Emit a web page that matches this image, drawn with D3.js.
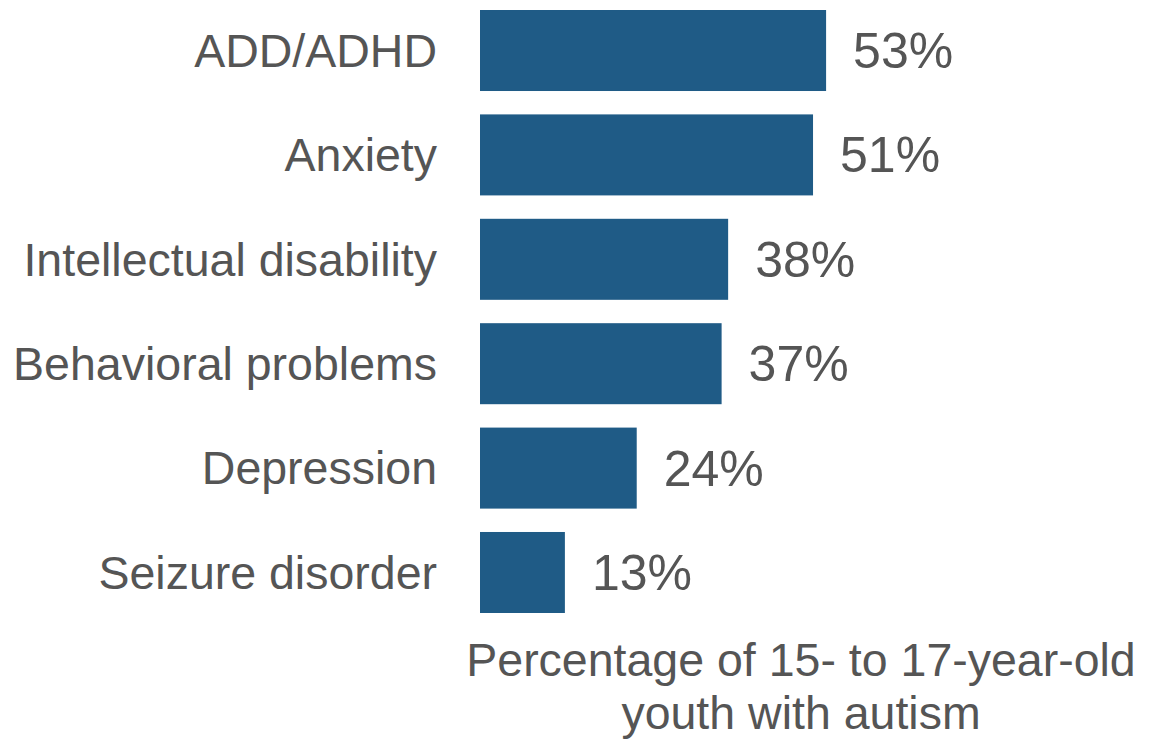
<!DOCTYPE html>
<html>
<head>
<meta charset="utf-8">
<script src="https://cdn.jsdelivr.net/npm/d3@7"></script>
<style>
  body { margin: 0; background: #fff; }
  text { font-family: "Liberation Sans", Arial, sans-serif; fill: #555; }
</style>
</head>
<body>
<div id="chart"></div>
<script>
var conditions = ["ADD/ADHD", "Anxiety", "Intellectual disability", "Behavioral problems", "Depression", "Seizure disorder"];
var percents = [53, 51, 38, 37, 24, 13];
var titleLines = ["Percentage of 15- to 17-year-old", "youth with autism"];

var width = 1153, height = 739;

var svg = d3.select("#chart").append("svg")
    .attr("width", width)
    .attr("height", height);

var x = d3.scaleLinear().domain([0, 100]).range([480, 1133]);
var y = d3.scaleBand().domain(conditions).range([10, 613]).paddingInner(0.224);

var data = conditions.map(function(c, i) { return { name: c, value: percents[i] }; });

// bars
svg.selectAll("rect.bar")
    .data(data)
    .enter().append("rect")
    .attr("class", "bar")
    .attr("x", x(0))
    .attr("y", d => y(d.name))
    .attr("width", d => x(d.value) - x(0))
    .attr("height", y.bandwidth())
    .attr("fill", "#1f5b86");

// category labels
svg.selectAll("text.cat")
    .data(data)
    .enter().append("text")
    .attr("class", "cat")
    .attr("x", x(0) - 43)
    .attr("y", d => y(d.name) + y.bandwidth() / 2)
    .attr("dy", "0.35em")
    .attr("text-anchor", "end")
    .style("font-size", "46.5px")
    .text(d => d.name);

// value labels
svg.selectAll("text.val")
    .data(data)
    .enter().append("text")
    .attr("class", "val")
    .attr("x", d => x(d.value) + 27)
    .attr("y", d => y(d.name) + y.bandwidth() / 2)
    .attr("dy", "0.35em")
    .style("font-size", "50px")
    .text(d => d.value + "%");

// axis title
svg.append("text")
    .attr("text-anchor", "middle")
    .style("font-size", "46.5px")
    .selectAll("tspan")
    .data(titleLines)
    .enter().append("tspan")
    .attr("x", 801)
    .attr("y", (d, i) => 676 + i * 53)
    .text(d => d);
</script>
</body>
</html>
